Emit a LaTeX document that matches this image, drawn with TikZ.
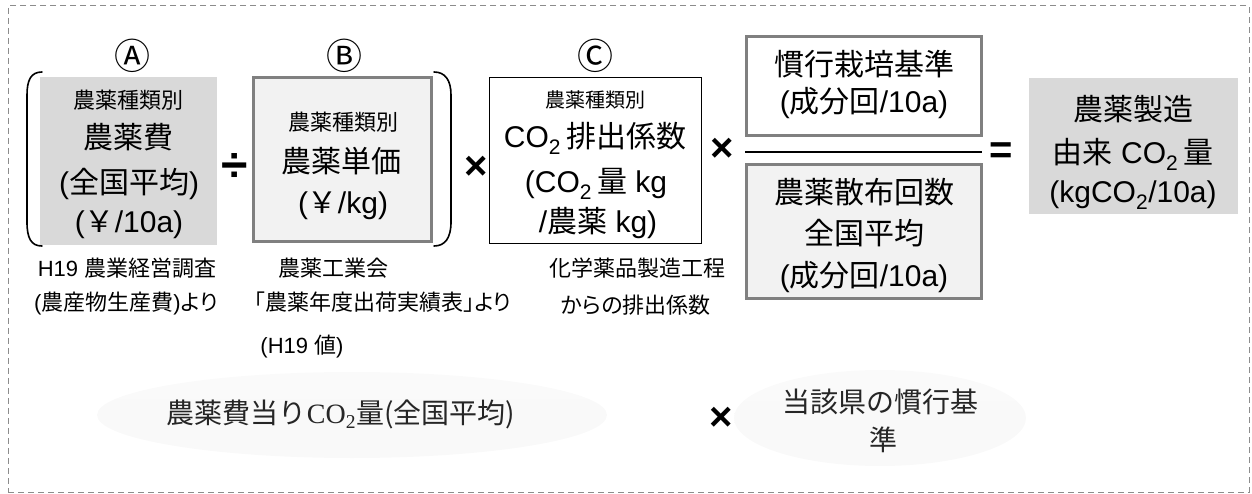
\documentclass[tikz,border=0pt]{standalone}
\usepackage{fontspec}
\usetikzlibrary{shapes.geometric}
\setmainfont{Liberation Sans}
\newfontfamily\jp{Noto Sans CJK JP}
\newfontfamily\jpp{Noto Sans CJK JP}[RawFeature=+palt]
\newfontfamily\lser{Liberation Serif}
\newcommand\J[1]{{\jp #1}}
\newcommand\JP[1]{{\jpp #1}}
\definecolor{boxgray}{HTML}{D9D9D9}
\definecolor{lightfill}{HTML}{F2F2F2}
\definecolor{bordergray}{HTML}{808080}
\definecolor{dashgray}{HTML}{8C8C8C}
\begin{document}
\begin{tikzpicture}[x=1pt,y=-1pt,
  box/.style={inner sep=0, outer sep=0},
  t30/.style={inner sep=0, font=\fontsize{30}{36}\selectfont, text height=26pt, text depth=4pt},
  t22/.style={inner sep=0, font=\fontsize{22}{26}\selectfont, text height=19.5pt, text depth=3pt},
  t20/.style={inner sep=0, font=\fontsize{20}{24}\selectfont, text height=17.6pt, text depth=2.4pt},
  t27/.style={inner sep=0, font=\fontsize{28}{32}\selectfont, text height=24.6pt, text depth=3.4pt, text=black!85},
  circ/.style={inner sep=0, font=\jp\fontsize{36}{38}\selectfont, text height=31pt, text depth=5pt},
  op/.style={inner sep=0, font=\bfseries\fontsize{40}{40}\selectfont, text height=28pt, text depth=0pt},
  grayell/.style={ellipse, inner sep=0, top color=gray!4, middle color=gray!14, bottom color=gray!5},
  brace/.style={line width=1.6pt, line cap=round}
]
\useasboundingbox (0,0) rectangle (1252,494);
% outer frame
\node[box, draw=dashgray, dash pattern=on 6pt off 4pt, line width=1pt,
      minimum width=1241, minimum height=486] (frame) at (628.5,249) {};

% boxes
\node[box, fill=boxgray, minimum width=177, minimum height=168] (A) at (128.5,161) {};
\node[box, fill=lightfill, draw=bordergray, line width=3pt, minimum width=178, minimum height=164] (B) at (342.5,159.5) {};
\node[box, fill=white, draw=black, line width=1.5pt, minimum width=212, minimum height=166] (C) at (595.5,160.5) {};
\node[box, fill=white, draw=bordergray, line width=3pt, minimum width=235, minimum height=99] (D) at (864,86) {};
\node[box, fill=lightfill, draw=bordergray, line width=3pt, minimum width=235, minimum height=134] (E) at (864,231.5) {};
\node[box, fill=boxgray, minimum width=209, minimum height=136] (R) at (1133.5,146) {};

% brackets
\draw[brace] (42,72) .. controls (31,72) and (27,80) .. (27,95) -- (27,222) .. controls (27,238) and (31,246) .. (42,246);
\draw[brace] (434,72) .. controls (445,72) and (451,80) .. (451,95) -- (451,222) .. controls (451,238) and (445,246) .. (434,246);

% fraction line
\coordinate (fl) at (745,152);
\coordinate (fr) at (982,152);
\draw[line width=2.5pt] (fl) -- (fr);

% circled labels
\node[circ] (la) at (132,57) {Ⓐ};
\node[circ] (lb) at (344,57) {Ⓑ};
\node[circ] (lc) at (595,57) {Ⓒ};

% operators
\node[op, font=\bfseries\fontsize{48}{48}\selectfont, text height=33pt] (div) at (235,165) {÷};
\node[op] (mul1) at (476,166) {×};
\node[op] (mul2) at (722,148) {×};
\node[op] (eq) at (1001,150) {=};
\node[op] (mul3) at (721,416) {×};

% texts in A
\node[t22] (a1) at (128,100) {\J{農薬種類別}};
\node[t30] (a2) at (128,138) {\J{農薬費}};
\node[t30] (a3) at (129,183) {(\J{全国平均})};
\node[t30] (a4) at (129,222) {(\J{￥}/10a)};
% texts in B
\node[t22] (b1) at (343,122) {\J{農薬種類別}};
\node[t30] (b2) at (341,162) {\J{農薬単価}};
\node[t30] (b3) at (343,203) {(\J{￥}/kg)};
% texts in C
\node[t20] (c1) at (595,100) {\J{農薬種類別}};
\node[t30] (c2) at (595,137) {CO\textsubscript{2}\,\J{排出係数}};
\node[t30] (c3) at (596,182) {(CO\textsubscript{2}\,\J{量} kg};
\node[t30] (c4) at (598,222) {/\J{農薬} kg)};
% texts in D, E
\node[t30] (d1) at (864,65) {\J{慣行栽培基準}};
\node[t30] (d2) at (864,102) {(\J{成分回}/10a)};
\node[t30] (e1) at (864,193) {\J{農薬散布回数}};
\node[t30] (e2) at (864,233) {\J{全国平均}};
\node[t30] (e3) at (864,275) {(\J{成分回}/10a)};
% result
\node[t30] (r1) at (1133,110) {\J{農薬製造}};
\node[t30] (r2) at (1133,153) {\J{由来} CO\textsubscript{2}\,\J{量}};
\node[t30] (r3) at (1133,192) {(kgCO\textsubscript{2}/10a)};

% sources
\node[t22] (s1) at (127,268) {H19 \JP{農業経営調査}};
\node[t22] (s2) at (126,302) {(\JP{農産物生産費})\JP{より}};
\node[t22] (s3) at (333,268) {\JP{農薬工業会}};
\node[t22] (s4) at (383,302) {\JP{「農薬年度出荷実績表」より}};
\node[t22] (s5) at (302,345) {(H19 \JP{値})};
\node[t22] (s6) at (637,268) {\JP{化学薬品製造工程}};
\node[t22] (s7) at (636,305) {\JP{からの排出係数}};

% ellipses
\node[grayell, minimum width=510, minimum height=86] (el1) at (352,415) {};
\node[t27] (el1t) at (341,413) {\J{農薬費当り}{\lser CO\textsubscript{2}}\J{量(全国平均)}};
\node[grayell, minimum width=292, minimum height=96] (el2) at (880,418) {};
\node[t27] (el2a) at (880,402) {\J{当該県の慣行基}};
\node[t27] (el2b) at (883,440) {\J{準}};
\end{tikzpicture}
\end{document}
